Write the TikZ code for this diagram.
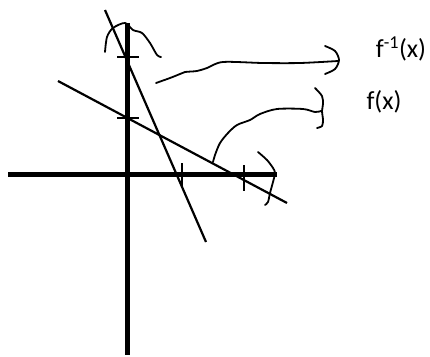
\documentclass[tikz,border=0pt]{standalone}
\usepackage{fontspec}
\setmainfont{Carlito}
\tikzset{axis/.style={line width=5pt},
         graph/.style={line width=2.2pt},
         tick/.style={line width=1.4pt},
         scribble/.style={line width=1.8pt,line cap=round,line join=round}}

\begin{document}
\begin{tikzpicture}[x=1pt,y=-1pt]
\useasboundingbox (0,0) rectangle (430,356);
\draw[axis](127,23)--(127,355);
\draw[axis](8,174)--(277,174);
\draw[tick](117,57)--(139,57);
\draw[tick](117,118)--(139,118);
\draw[tick](182,163)--(182,188);
\draw[tick](244,165)--(244,191);
\draw[graph](105,10)--(206,242);
\draw[graph](58,81)--(287,203);

\draw[scribble] plot[smooth] coordinates {(105,52) (107,37) (113,28) (125,23) (133,30) (142,33) (150,43) (157,55) (161,57)};
\draw[scribble] plot[smooth] coordinates {(156,83) (170,78) (180,74) (185,72) (197,71) (207,68) (223,62) (263,63) (300,63) (338,61)};
\draw[scribble] plot[smooth] coordinates {(325,46) (335,51) (339,60) (335,69) (325,74)};
\draw[scribble] plot[smooth] coordinates {(213,162) (215,155) (220,143) (228,133) (237,125) (250,120) (260,114) (277,109) (303,109) (315,112) (321,111)};
\draw[scribble] plot[smooth] coordinates {(315,88) (322,96) (323,104) (322,111) (323,120) (322,126) (317,128)};
\draw[scribble] plot[smooth] coordinates {(258,152) (267,160) (273,168) (275,173) (273,182) (270,193) (268,202) (265,205)};

\node[font=\fontsize{26}{30}\selectfont] (finv) at (401,49) {f\textsuperscript{-1}(x)};
\node[font=\fontsize{26}{30}\selectfont] (f) at (384,102) {f(x)};
\end{tikzpicture}
\end{document}
